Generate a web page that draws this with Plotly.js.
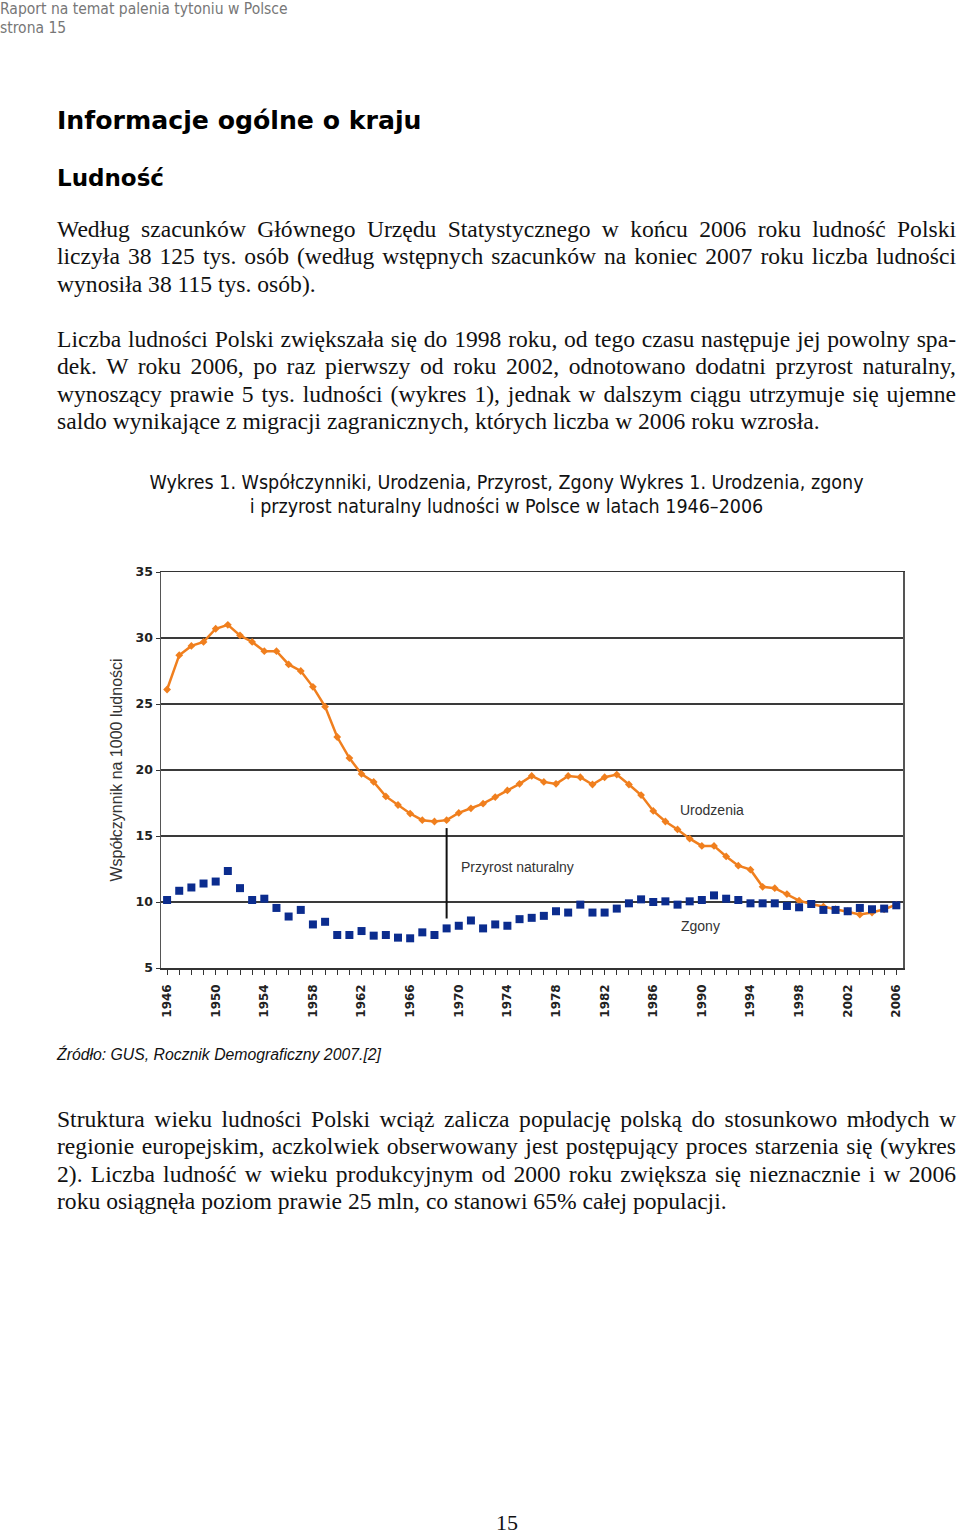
<!DOCTYPE html>
<html><head><meta charset="utf-8">
<script src="https://cdn.plot.ly/plotly-3.0.1.min.js"></script>
<style>
html,body{margin:0;padding:0;background:#fff;}
body{width:960px;height:1535px;position:relative;overflow:hidden;}
.hdr{position:absolute;left:0;font-family:"DejaVu Sans Condensed","DejaVu Sans",sans-serif;font-size:15.5px;color:#777;line-height:18px;}
.h1{position:absolute;left:57px;font-family:"DejaVu Sans",sans-serif;font-weight:bold;font-size:25.2px;color:#000;line-height:30px;}
.h2{position:absolute;left:57px;font-family:"DejaVu Sans",sans-serif;font-weight:bold;font-size:23px;color:#000;line-height:30px;}
.para{position:absolute;left:57px;width:899px;font-family:"Liberation Serif","Times New Roman",serif;font-size:23.6px;line-height:27.4px;color:#111;}
.para div{text-align:justify;text-align-last:justify;white-space:nowrap;}
.para div.last{text-align-last:left;}
.cap{position:absolute;left:57px;width:899px;text-align:center;font-family:"DejaVu Sans Condensed","DejaVu Sans",sans-serif;font-size:19.5px;line-height:24px;color:#111;}
.src{position:absolute;left:57px;font-family:"Liberation Sans",Arial,sans-serif;font-style:italic;font-size:15.8px;color:#111;line-height:18px;}
.pn{position:absolute;left:0;width:1014px;text-align:center;font-family:"Liberation Serif",serif;font-size:22px;color:#111;line-height:24px;}
#chart{position:absolute;left:0;top:540px;width:960px;height:500px;}
</style></head>
<body>
<div class="hdr" style="top:0px">Raport na temat palenia tytoniu w Polsce</div>
<div class="hdr" style="top:19px">strona 15</div>
<div class="h1" style="top:106px">Informacje ogólne o kraju</div>
<div class="h2" style="top:163px">Ludność</div>
<div class="para" style="top:216px">
<div>Według szacunków Głównego Urzędu Statystycznego w końcu 2006 roku ludność Polski</div>
<div>liczyła 38 125 tys. osób (według wstępnych szacunków na koniec 2007 roku liczba ludności</div>
<div class="last">wynosiła 38 115 tys. osób).</div>
</div>
<div class="para" style="top:326px">
<div>Liczba ludności Polski zwiększała się do 1998 roku, od tego czasu następuje jej powolny spa-</div>
<div>dek. W roku 2006, po raz pierwszy od roku 2002, odnotowano dodatni przyrost naturalny,</div>
<div>wynoszący prawie 5 tys. ludności (wykres 1), jednak w dalszym ciągu utrzymuje się ujemne</div>
<div class="last">saldo wynikające z migracji zagranicznych, których liczba w 2006 roku wzrosła.</div>
</div>
<div class="cap" style="top:471px">Wykres 1. Współczynniki, Urodzenia, Przyrost, Zgony Wykres 1. Urodzenia, zgony<br>i przyrost naturalny ludności w Polsce w latach 1946–2006</div>
<div id="chart"></div>
<div class="src" style="top:1046px">Źródło: GUS, Rocznik Demograficzny 2007.[2]</div>
<div class="para" style="top:1106px">
<div>Struktura wieku ludności Polski wciąż zalicza populację polską do stosunkowo młodych w</div>
<div>regionie europejskim, aczkolwiek obserwowany jest postępujący proces starzenia się (wykres</div>
<div>2). Liczba ludność w wieku produkcyjnym od 2000 roku zwiększa się nieznacznie i w 2006</div>
<div class="last">roku osiągnęła poziom prawie 25 mln, co stanowi 65% całej populacji.</div>
</div>
<div class="pn" style="top:1511px">15</div>
<script>
const years = [1946,1947,1948,1949,1950,1951,1952,1953,1954,1955,1956,1957,1958,1959,1960,1961,1962,1963,1964,1965,
1966,1967,1968,1969,1970,1971,1972,1973,1974,1975,1976,1977,1978,1979,1980,1981,1982,1983,1984,1985,
1986,1987,1988,1989,1990,1991,1992,1993,1994,1995,1996,1997,1998,1999,2000,2001,2002,2003,2004,2005,2006];
const urodzenia = [26.1,28.7,29.4,29.7,30.7,31.0,30.2,29.7,29.0,29.0,28.0,27.5,26.3,24.8,22.5,20.9,19.7,19.1,18.0,17.35,
16.7,16.2,16.1,16.2,16.75,17.1,17.45,17.95,18.45,18.95,19.55,19.1,18.95,19.55,19.45,18.9,19.45,19.65,18.9,18.1,
16.9,16.1,15.5,14.8,14.25,14.25,13.45,12.75,12.45,11.15,11.05,10.6,10.1,9.85,9.65,9.45,9.3,9.05,9.2,9.45,9.8];
const zgony = [10.15,10.85,11.1,11.4,11.55,12.35,11.05,10.15,10.25,9.55,8.9,9.4,8.3,8.5,7.5,7.5,7.8,7.45,7.5,7.3,
7.25,7.7,7.5,8.0,8.2,8.6,8.0,8.3,8.2,8.7,8.8,8.95,9.3,9.2,9.8,9.2,9.2,9.5,9.9,10.2,
10.0,10.05,9.8,10.05,10.15,10.5,10.25,10.15,9.9,9.9,9.9,9.7,9.6,9.85,9.4,9.4,9.3,9.55,9.45,9.5,9.75];
const yTitle = "Współczynnik na 1000 ludności";
const labelUrodzenia = "Urodzenia";
const labelZgony = "Zgony";
const labelPrzyrost = "Przyrost naturalny";
const przyrostYear = 1969;

const traces = [
  {x: years, y: urodzenia, type: 'scatter', mode: 'lines+markers', name: labelUrodzenia,
   line: {color: '#f07f1e', width: 2.5}, marker: {symbol: 'diamond', size: 6, color: '#f07f1e'}},
  {x: years, y: zgony, type: 'scatter', mode: 'markers', name: labelZgony,
   marker: {symbol: 'square', size: 8, color: '#0b2c8e'}}
];
const iP = years.indexOf(przyrostYear);
const layout = {
  width: 960, height: 500,
  margin: {l: 161, r: 57, t: 32, b: 72},
  paper_bgcolor: 'rgba(0,0,0,0)', plot_bgcolor: '#fff',
  showlegend: false,
  font: {family: 'DejaVu Sans, sans-serif', color: '#222'},
  xaxis: {
    range: [1945.5, 2006.55], tickmode: 'linear', tick0: 1946, dtick: 4,
    tickangle: -90, ticks: 'outside', ticklen: 5, tickwidth: 1, tickcolor: '#333',
    ticklabelstandoff: 5,
    minor: {tickmode: 'linear', tick0: 1946, dtick: 1, ticks: 'outside', ticklen: 5, tickwidth: 1, tickcolor: '#333', showgrid: false},
    showgrid: false, zeroline: false, showline: true, linecolor: '#333', linewidth: 1.5, mirror: true,
    tickfont: {family: 'DejaVu Sans, sans-serif', size: 12, weight: 'bold', color: '#222'}
  },
  yaxis: {
    range: [5, 35], tickmode: 'linear', tick0: 5, dtick: 5,
    ticks: 'outside', ticklen: 4, tickcolor: '#333',
    showgrid: true, gridcolor: '#3a3a3a', gridwidth: 1.5, zeroline: false,
    showline: true, linecolor: '#555', linewidth: 1.5, mirror: true,
    tickfont: {family: 'DejaVu Sans, sans-serif', size: 12.5, weight: 'bold', color: '#222'},
    title: {text: yTitle, font: {family: 'Liberation Sans, Arial, sans-serif', size: 16, color: '#333'}, standoff: 9}
  },
  shapes: [
    {type: 'line', xref: 'x', yref: 'y', x0: przyrostYear, x1: przyrostYear,
     y0: urodzenia[iP] - 0.6, y1: zgony[iP] + 0.75, line: {color: '#111', width: 2}}
  ],
  annotations: [
    {x: 1970, y: 12.67, xref: 'x', yref: 'y', text: labelPrzyrost, showarrow: false, xanchor: 'left',
     font: {family: 'Liberation Sans, Arial, sans-serif', size: 14, color: '#333'}},
    {x: 1988, y: 16.95, xref: 'x', yref: 'y', text: labelUrodzenia, showarrow: false, xanchor: 'left',
     font: {family: 'Liberation Sans, Arial, sans-serif', size: 14, color: '#333'}},
    {x: 1988.1, y: 8.2, xref: 'x', yref: 'y', text: labelZgony, showarrow: false, xanchor: 'left',
     font: {family: 'Liberation Sans, Arial, sans-serif', size: 14, color: '#333'}}
  ]
};
Plotly.newPlot('chart', traces, layout, {displayModeBar: false, staticPlot: true});
</script>
</body></html>
